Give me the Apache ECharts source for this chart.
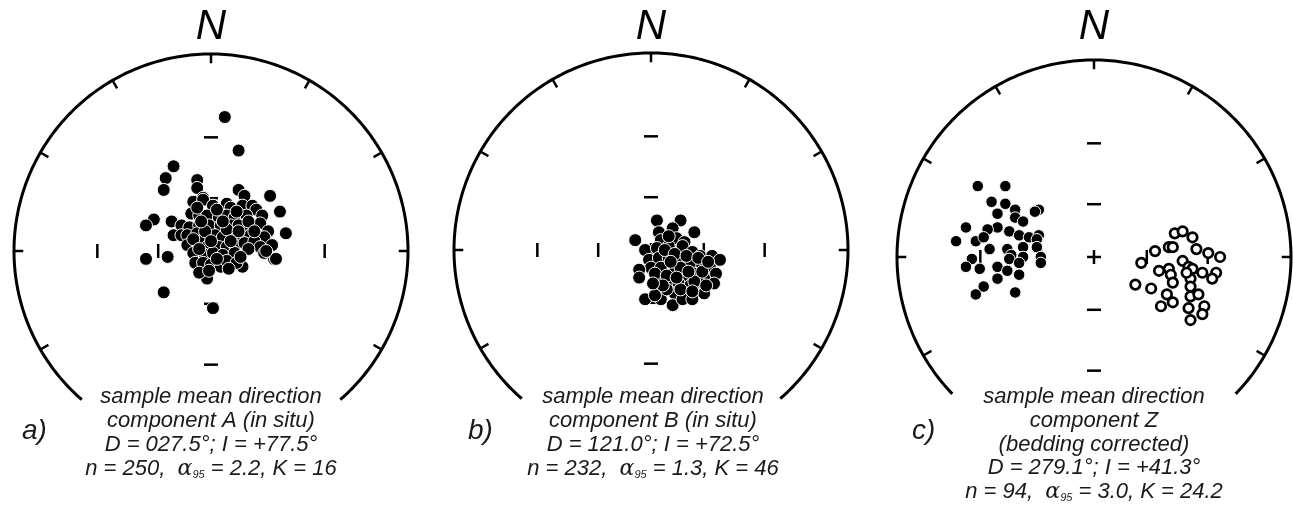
<!DOCTYPE html>
<html>
<head>
<meta charset="utf-8">
<script src="https://cdn.jsdelivr.net/npm/echarts@6/dist/echarts.min.js"></script>
<style>
html,body{margin:0;padding:0;background:#fff;}
#chart{width:1293px;height:508px;}
</style>
</head>
<body>
<div id="chart"></div>
<script>
// Projected directions (stereographic net, east / north, net radius = 100)
const aPoints = [
 [7,68],[14,51],[-19,43],[-23,37],[-24,31],[-7,36],[-7,32],[14,31],[17,28],[30,28],[-4,27],[35,20],
 [-29,16],[-33,13],[-20,15],[-15,13],[-19,8],[38,9],[-33,-4],[-22,-3],[-24,-21],[1,-29],[-2,-14],
 [16,-8],[32,-4],[31,3],[-15,8],
 [-9,25],[-4,26],[1,23],[8,24],[10,22],[16,23],[21,23],[23,21],[26,18],
 [-10,19],[-6,18],[-2,18],[4,17],[8,18],[12,17],[18,18],
 [-11,12],[-6,13],[-1,13],[5,13],[10,13],[14,13],[20,12],[25,14],[29,10],
 [-12,8],[-7,9],[-3,7],[2,8],[6,7],[11,9],[16,7],[20,8],[23,6],[27,7],
 [-12,3],[-4,5],[-2,2],[4,2],[8,2],[12,3],[17,4],[22,5],[25,2],[31,3],
 [-9,-1],[-3,-2],[1,-1],[6,-2],[12,-1],[27,-1],[33,-4],[28,0],
 [-8,-6],[-4,-6],[0,-7],[5,-8],[8,-5],[13,-6],[-6,-11],
 [-7,22],[3,21],[13,20],[19,15],[-3,10],[8,11],[14,10],[-9,6],[0,5],[10,5],[19,1],[-6,1],
 [3,-4],[9,-9],[-1,-10],[22,10],[15,-3],[-5,15],[6,15]
];
const bPoints = [
 [3,15],[15,15],[11,11],[4,9],[22,9],[-8,5],[5,5],[13,6],[17,4],[-3,0],[3,1],[9,2],[16,2],[21,-1],
 [25,-3],[31,-3],[35,-5],[-1,-5],[4,-4],[9,-4],[14,-6],[20,-7],[26,-8],[30,-9],[0,-9],[5,-9],
 [12,-11],[17,-13],[22,-12],[27,-14],[33,-12],[-6,-10],[-6,-14],[4,-15],[9,-16],[14,-17],[20,-18],
 [24,-16],[32,-17],[5,-20],[12,-22],[18,-22],[27,-22],[-3,-25],[5,-25],[11,-28],[16,-25],[21,-25],[2,-23],
 [7,0],[12,-2],[18,-3],[24,-4],[2,-12],[8,-13],[15,-9],[22,-16],[28,-18],[8,-20],[15,-20],[21,-21],
 [10,-6],[6,-18],[1,-17],[13,-14],[19,-11],[26,-11],[29,-6],[9,7]
];
const cNormal = [
 [-59,36],[-45,36],[-52,28],[-45,27],[-49,22],[-40,24],[-40,20],[-36,18],[-28,24],[-30,23],[-65,15],
 [-49,15],[-54,14],[-43,13],[-38,11],[-33,10],[-28,11],[-29,9],[-70,8],[-60,8],[-56,10],[-53,4],
 [-44,4],[-36,5],[-29,5],[-42,1],[-36,0],[-62,-1],[-43,-1],[-38,-3],[-27,0],[-27,-3],[-65,-5],
 [-58,-6],[-49,-5],[-44,-7],[-38,-9],[-49,-11],[-56,-15],[-60,-19],[-40,-18]
];
const cReversed = [
 [41,12],[45,13],[50,10],[38,5],[40,5],[31,3],[24,-3],[52,4],[58,2],[64,0],[45,-2],[48,-5],[50,-6],
 [55,-8],[62,-8],[60,-11],[33,-7],[38,-6],[39,-9],[40,-13],[49,-11],[21,-14],[29,-16],[37,-19],
 [40,-23],[34,-25],[49,-15],[49,-20],[53,-19],[48,-26],[56,-25],[55,-29],[49,-32],[47,-8]
];
const rimTickAzimuths = [0,30,60,90,120,240,270,300,330];
const innerTickRadii = [26.8, 57.7]; // inclination 60° and 30°
const panelLabels = ['a)','b)','c)'];
const captionA = ['sample mean direction','component A (in situ)','D = 027.5°; I = +77.5°','n = 250,  {g|α}{s|95} = 2.2, K = 16'];
const captionB = ['sample mean direction','component B (in situ)','D = 121.0°; I = +72.5°','n = 232,  {g|α}{s|95} = 1.3, K = 46'];
const captionC = ['sample mean direction','component Z','(bedding corrected)','D = 279.1°; I = +41.3°','n = 94,  {g|α}{s|95} = 3.0, K = 24.2'];

const panels = [
  {cx:211, cy:251, R:197, gap:41, textX:211, labelX:22, caption:captionA},
  {cx:651, cy:250, R:197, gap:41, textX:653, labelX:468, caption:captionB},
  {cx:1094, cy:257, R:197, gap:46, textX:1094, labelX:912, caption:captionC}
];

const chart = echarts.init(document.getElementById('chart'), null, {renderer:'canvas'});
const FONT = "'Liberation Sans', Arial, sans-serif";

function frameRenderer(gap){
  return function(params, api){
    const children = [];
    const P = (r, az) => { const a = az*Math.PI/180; return api.coord([r*Math.sin(a), r*Math.cos(a)]); };
    const pts = [];
    for (let az = 180+gap; az <= 540-gap + 0.001; az += 1) pts.push(P(100, az));
    children.push({type:'polyline', shape:{points:pts}, style:{stroke:'#000', lineWidth:3, fill:null}});
    rimTickAzimuths.forEach(az => {
      const p1 = P(100, az), p2 = P(95.3, az);
      children.push({type:'line', shape:{x1:p1[0],y1:p1[1],x2:p2[0],y2:p2[1]}, style:{stroke:'#000', lineWidth:2.5}});
    });
    const h = 7;
    innerTickRadii.forEach(r => {
      [[r,0],[-r,0]].forEach(v => { const p = api.coord(v);
        children.push({type:'line', shape:{x1:p[0],y1:p[1]-h,x2:p[0],y2:p[1]+h}, style:{stroke:'#000', lineWidth:2.5}}); });
      [[0,r],[0,-r]].forEach(v => { const p = api.coord(v);
        children.push({type:'line', shape:{x1:p[0]-h,y1:p[1],x2:p[0]+h,y2:p[1]}, style:{stroke:'#000', lineWidth:2.5}}); });
    });
    const c = api.coord([0,0]);
    children.push({type:'line', shape:{x1:c[0]-7,y1:c[1],x2:c[0]+7,y2:c[1]}, style:{stroke:'#000', lineWidth:2.5}});
    children.push({type:'line', shape:{x1:c[0],y1:c[1]-7,x2:c[0],y2:c[1]+7}, style:{stroke:'#000', lineWidth:2.5}});
    return {type:'group', children};
  };
}

const grid = [], xAxis = [], yAxis = [], series = [], graphic = [];
panels.forEach((p, i) => {
  grid.push({left:p.cx-p.R, top:p.cy-p.R, width:2*p.R, height:2*p.R});
  xAxis.push({gridIndex:i, type:'value', min:-100, max:100, show:false});
  yAxis.push({gridIndex:i, type:'value', min:-100, max:100, show:false});
  series.push({type:'custom', xAxisIndex:i, yAxisIndex:i, data:[[0,0]], renderItem:frameRenderer(p.gap), clip:false, silent:true, z:1});
  graphic.push({type:'text', x:p.cx, y:27, style:{text:'N', font:"italic 42px "+FONT, fill:'#000', textAlign:'center', textVerticalAlign:'middle'}});
  graphic.push({type:'text', x:p.labelX, y:431, style:{text:panelLabels[i], font:"italic 28px "+FONT, fill:'#1a1a1a', textAlign:'left', textVerticalAlign:'middle'}});
  const ys = p.caption.length === 4 ? [397,421,445,469] : [397,421,445,468,492];
  p.caption.forEach((t, k) => {
    graphic.push({type:'text', x:p.textX, y:ys[k], style:{text:t, font:"italic 22px "+FONT, fill:'#1a1a1a', textAlign:'center', textVerticalAlign:'middle',
      rich:{g:{font:"italic 22px 'DejaVu Serif', serif", fill:'#1a1a1a'}, s:{font:"italic 11px "+FONT, fill:'#1a1a1a', verticalAlign:'bottom', padding:[9,0,0,0]}}}});
  });
});

const filled = {color:'#000', borderColor:'#fff', borderWidth:1, opacity:1};
const emph = {disabled:true};
series.push({type:'scatter', xAxisIndex:0, yAxisIndex:0, data:aPoints, symbol:'circle', symbolSize:13, itemStyle:filled, emphasis:emph, z:3});
series.push({type:'scatter', xAxisIndex:1, yAxisIndex:1, data:bPoints, symbol:'circle', symbolSize:13, itemStyle:filled, emphasis:emph, z:3});
series.push({type:'scatter', xAxisIndex:2, yAxisIndex:2, data:cNormal, symbol:'circle', symbolSize:11.5, itemStyle:filled, emphasis:emph, z:3});
series.push({type:'scatter', xAxisIndex:2, yAxisIndex:2, data:cReversed, symbol:'circle', symbolSize:9.5, itemStyle:{color:'#fff', borderColor:'#000', borderWidth:2.7, opacity:1}, emphasis:emph, z:3});

chart.setOption({animation:false, backgroundColor:'#fff', grid, xAxis, yAxis, series, graphic});
</script>
</body>
</html>
